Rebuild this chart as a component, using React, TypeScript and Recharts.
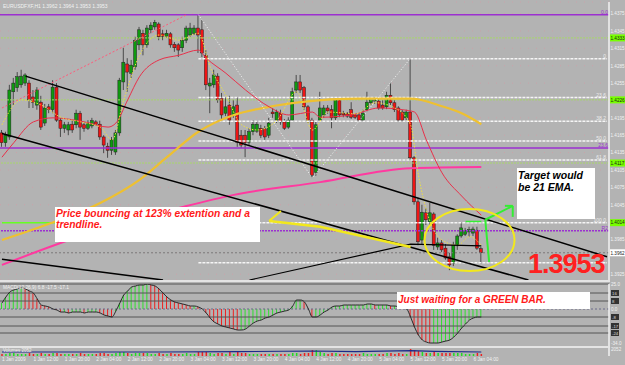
import React from 'react';
import { ComposedChart, Bar, Line, XAxis, YAxis, ReferenceLine, ReferenceDot, CartesianGrid } from 'recharts';

const FONT = '"Liberation Sans", Arial, sans-serif';
const BG = '#b3b3b3';

// ---------- candle data (EURUSD H1) ----------
const opens = [
  1.4169, 1.4152, 1.4162, 1.4240, 1.4247, 1.4252, 1.4255, 1.4255, 1.4231, 1.4217,
  1.4222, 1.4186, 1.4214, 1.4209, 1.4248, 1.4191, 1.4177, 1.4174, 1.4184, 1.4183,
  1.4203, 1.4183, 1.4177, 1.4181, 1.4188, 1.4184, 1.4162, 1.4146, 1.4139, 1.4136,
  1.4169, 1.4257, 1.4288, 1.4272, 1.4283, 1.4321, 1.4341, 1.4321, 1.4347, 1.4352,
  1.4357, 1.4340, 1.4336, 1.4340, 1.4322, 1.4321, 1.4316, 1.4329, 1.4338, 1.4341,
  1.4350, 1.4347, 1.4303, 1.4250, 1.4252, 1.4267, 1.4229, 1.4203, 1.4217, 1.4200,
  1.4217, 1.4165, 1.4165, 1.4153, 1.4171, 1.4172, 1.4177, 1.4176, 1.4165, 1.4205,
  1.4191, 1.4203, 1.4188, 1.4179, 1.4191, 1.4243, 1.4257, 1.4247, 1.4214, 1.4191,
  1.4101, 1.4191, 1.4200, 1.4212, 1.4209, 1.4195, 1.4226, 1.4203, 1.4202, 1.4209,
  1.4200, 1.4200, 1.4191, 1.4209, 1.4221, 1.4224, 1.4224, 1.4217, 1.4214, 1.4234,
  1.4221, 1.4212, 1.4205, 1.4195, 1.4205, 1.4126, 1.4050, 1.3984, 1.4031, 1.4015,
  1.4029, 1.3972, 1.3979, 1.3970, 1.3955, 1.3944, 1.3974, 1.3991, 1.3994, 1.3998,
  1.3996, 1.4001, 1.3969,
];
const highs = [
  1.4174, 1.4171, 1.4252, 1.4264, 1.4274, 1.4278, 1.4272, 1.4260, 1.4243, 1.4248,
  1.4233, 1.4219, 1.4219, 1.4260, 1.4255, 1.4195, 1.4188, 1.4188, 1.4191, 1.4209,
  1.4207, 1.4188, 1.4191, 1.4195, 1.4191, 1.4190, 1.4165, 1.4152, 1.4162, 1.4174,
  1.4264, 1.4316, 1.4298, 1.4295, 1.4335, 1.4352, 1.4347, 1.4355, 1.4360, 1.4364,
  1.4360, 1.4347, 1.4347, 1.4343, 1.4326, 1.4324, 1.4335, 1.4354, 1.4359, 1.4355,
  1.4373, 1.4364, 1.4312, 1.4264, 1.4278, 1.4272, 1.4238, 1.4231, 1.4233, 1.4226,
  1.4231, 1.4174, 1.4174, 1.4177, 1.4191, 1.4190, 1.4183, 1.4181, 1.4195, 1.4212,
  1.4209, 1.4209, 1.4193, 1.4196, 1.4247, 1.4269, 1.4269, 1.4250, 1.4217, 1.4195,
  1.4188, 1.4240, 1.4217, 1.4217, 1.4217, 1.4229, 1.4229, 1.4207, 1.4205, 1.4222,
  1.4203, 1.4203, 1.4209, 1.4240, 1.4229, 1.4231, 1.4229, 1.4226, 1.4240, 1.4255,
  1.4226, 1.4215, 1.4209, 1.4209, 1.4298, 1.4129, 1.4057, 1.4045, 1.4039, 1.4048,
  1.4032, 1.3988, 1.3984, 1.3977, 1.3962, 1.3981, 1.3994, 1.4015, 1.4005, 1.4007,
  1.4007, 1.4007, 1.3972,
];
const lows = [
  1.4145, 1.4145, 1.4157, 1.4217, 1.4240, 1.4247, 1.4250, 1.4212, 1.4212, 1.4209,
  1.4174, 1.4181, 1.4203, 1.4203, 1.4188, 1.4162, 1.4169, 1.4165, 1.4169, 1.4177,
  1.4157, 1.4171, 1.4174, 1.4177, 1.4181, 1.4157, 1.4134, 1.4126, 1.4131, 1.4131,
  1.4164, 1.4243, 1.4240, 1.4264, 1.4278, 1.4312, 1.4303, 1.4316, 1.4341, 1.4347,
  1.4329, 1.4329, 1.4333, 1.4316, 1.4309, 1.4300, 1.4309, 1.4324, 1.4335, 1.4338,
  1.4307, 1.4300, 1.4243, 1.4203, 1.4247, 1.4221, 1.4191, 1.4198, 1.4183, 1.4195,
  1.4145, 1.4143, 1.4127, 1.4148, 1.4165, 1.4169, 1.4160, 1.4157, 1.4160, 1.4195,
  1.4186, 1.4183, 1.4174, 1.4176, 1.4188, 1.4238, 1.4238, 1.4209, 1.4186, 1.4091,
  1.4095, 1.4188, 1.4195, 1.4202, 1.4177, 1.4191, 1.4196, 1.4196, 1.4195, 1.4193,
  1.4193, 1.4188, 1.4188, 1.4205, 1.4217, 1.4219, 1.4209, 1.4209, 1.4210, 1.4217,
  1.4205, 1.4188, 1.4188, 1.4191, 1.4122, 1.4045, 1.3975, 1.3977, 1.4010, 1.4010,
  1.3967, 1.3967, 1.3963, 1.3950, 1.3932, 1.3939, 1.3967, 1.3988, 1.3991, 1.3990,
  1.3991, 1.3967, 1.3943,
];
const closes = [
  1.4152, 1.4165, 1.4243, 1.4255, 1.4266, 1.4267, 1.4269, 1.4226, 1.4222, 1.4243,
  1.4179, 1.4212, 1.4209, 1.4248, 1.4191, 1.4177, 1.4183, 1.4183, 1.4174, 1.4203,
  1.4179, 1.4177, 1.4186, 1.4190, 1.4184, 1.4162, 1.4148, 1.4139, 1.4157, 1.4169,
  1.4260, 1.4291, 1.4274, 1.4286, 1.4329, 1.4347, 1.4321, 1.4350, 1.4355, 1.4360,
  1.4335, 1.4336, 1.4341, 1.4321, 1.4316, 1.4312, 1.4329, 1.4350, 1.4350, 1.4350,
  1.4338, 1.4307, 1.4252, 1.4255, 1.4269, 1.4226, 1.4200, 1.4214, 1.4191, 1.4214,
  1.4153, 1.4148, 1.4152, 1.4171, 1.4184, 1.4184, 1.4165, 1.4162, 1.4186, 1.4202,
  1.4205, 1.4188, 1.4177, 1.4191, 1.4240, 1.4257, 1.4243, 1.4214, 1.4191, 1.4096,
  1.4183, 1.4212, 1.4212, 1.4207, 1.4195, 1.4226, 1.4200, 1.4200, 1.4198, 1.4196,
  1.4196, 1.4191, 1.4203, 1.4222, 1.4226, 1.4226, 1.4212, 1.4212, 1.4234, 1.4221,
  1.4209, 1.4191, 1.4191, 1.4205, 1.4126, 1.4050, 1.3981, 1.4032, 1.4019, 1.4031,
  1.3975, 1.3979, 1.3967, 1.3953, 1.3941, 1.3975, 1.3991, 1.4005, 1.4000, 1.4002,
  1.4003, 1.3970, 1.3962,
];

// MACD main values per candle
const macd = [
  6, 12, 17, 19, 20, 21, 20, 18, 16, 10,
  4, 3, 2, 0, -1, -3, -3, -4, -3, -3,
  -3, -4, -3, -3, -3, -4, -6, -7, -8, -2,
  6, 14, 18, 22, 23, 24, 24, 25, 24, 23,
  20, 16, 12, 9, 7, 6, 5, 4, 3, 3,
  2, 0, -4, -9, -13, -15, -17, -18, -19, -20,
  -21, -21, -20, -17, -14, -12, -11, -9, -8, -6,
  -4, -3, -2, -1, 3, 9, 9, 7, 0, -8,
  -8, -6, -3, -1, 2, 3, 3, 4, 4, 4,
  4, 4, 4, 5, 5, 4, 4, 4, 4, 3,
  3, 2, 1, 0, -8, -18, -26, -31, -33, -34,
  -34, -34, -33, -32, -31, -28, -24, -19, -15, -11,
  -9, -8, -8,
];

// tick volume per candle
const volume = [
  600, 600, 900, 900, 600, 600, 600, 900, 600, 600,
  900, 600, 600, 900, 900, 600, 600, 600, 600, 600,
  900, 600, 600, 600, 600, 900, 900, 600, 600, 900,
  1200, 1200, 900, 600, 900, 900, 900, 900, 600, 600,
  900, 600, 600, 900, 600, 600, 600, 900, 600, 600,
  1200, 1200, 1200, 900, 600, 900, 900, 600, 1200, 600,
  1200, 900, 900, 600, 600, 600, 600, 600, 600, 600,
  600, 600, 600, 600, 900, 900, 600, 900, 900, 1800,
  1800, 1200, 900, 600, 900, 900, 600, 600, 600, 600,
  600, 600, 900, 600, 600, 600, 600, 600, 900, 900,
  600, 900, 600, 600, 2100, 1800, 1500, 1200, 900, 900,
  1200, 900, 900, 900, 900, 900, 900, 900, 600, 600,
  600, 900, 600,
];

// ---------- indicator lines (candle index, price) ----------
const ema21Pts: Array<[number, number]> = [
  [0, 1.4127], [3, 1.4152], [8, 1.4188], [13, 1.4195], [21, 1.4188], [27, 1.4179], [29, 1.4186],
  [32, 1.4226], [35, 1.4266], [40, 1.4295], [45, 1.4303], [50, 1.4312], [52, 1.4298], [57, 1.4272],
  [62, 1.4243], [68, 1.4214], [73, 1.4200], [79, 1.4205], [81, 1.4196], [89, 1.4200], [96, 1.4212],
  [102, 1.4209], [105, 1.4205], [108, 1.4157], [112, 1.4100], [117, 1.4060], [122, 1.4027],
];
const slowMaPts: Array<[number, number]> = [
  [0, 1.3984], [12, 1.4012], [25, 1.4048], [35, 1.4088], [42, 1.4127], [50, 1.4171], [59, 1.4200],
  [68, 1.4214], [76, 1.4222], [91, 1.4228], [104, 1.4228], [112, 1.4215], [117, 1.4203], [122, 1.4184],
];
const ema200Pts: Array<[number, number]> = [
  [0, 1.3941], [21, 1.3993], [46, 1.4041], [59, 1.4062], [81, 1.4084], [104, 1.4108], [122, 1.4110],
];
const fastMaPts: Array<[number, number]> = [
  [0, 1.4183], [5, 1.4226], [10, 1.4217], [15, 1.4196], [20, 1.4188], [25, 1.4179], [28, 1.4157],
  [31, 1.4226], [35, 1.4303], [40, 1.4338], [45, 1.4329], [50, 1.4341], [53, 1.4283], [57, 1.4234],
  [61, 1.4183], [65, 1.4174], [70, 1.4191], [75, 1.4240], [79, 1.4174], [83, 1.4205], [90, 1.4202],
  [95, 1.4221], [100, 1.4212], [104, 1.4183], [106, 1.4096], [108, 1.4036], [112, 1.3984],
  [116, 1.3975], [119, 1.3990], [122, 1.3975],
];
const pinkTrendPts: Array<[number, number]> = [[0, 1.4212], [47, 1.4373]];
const zigzagPts: Array<[number, number]> = [[50, 1.4373], [79, 1.4091], [104, 1.4298]];
const upperTrendPts: Array<[number, number]> = [[6, 1.4267], [154, 1.3955]];
const lowerTrendPts: Array<[number, number]> = [[0, 1.4168], [134, 1.3915]];
const bottomTrendPts: Array<[number, number]> = [[0, 1.3951], [41, 1.3915]];
const risingLinePts: Array<[number, number]> = [[63, 1.3915], [104, 1.3977], [122, 1.3974]];
const yellowArrowPts: Array<[number, number]> = [[68, 1.4017], [81, 1.4007], [104, 1.3972]];
const volLinePts: Array<[number, number]> = [[0, 1200], [40, 1200], [60, 1300], [79, 1500], [90, 1300], [104, 1600], [110, 1400], [122, 1200]];

// ---------- levels ----------
const purpleLevels = [1.4373, 1.4143];
const purpleLabels = ['0.0', '23.6'];
const purpleDashed = 1.4000;
const greenDotLevels = [1.4333, 1.4226, 1.4117];
const greenBoxLevels = [1.4333, 1.4226, 1.4117, 1.4014];
const fibPrices = [1.4297, 1.4230, 1.4189, 1.4155, 1.4122, 1.4014, 1.3945];
const fibNames = ['0', '23.6', '38.2', '50.0', '61.8', '100.0', ''];
const fibStart = 50;
const lastPrice = 1.3962;
const priceTicks = [1.4375, 1.4345, 1.4315, 1.4285, 1.4255, 1.4195, 1.4165, 1.4135, 1.4105, 1.4075, 1.4045, 1.3985, 1.3925];
const macdLevels = [25, 16, 8, 0, -8, -17, -24];
const macdBoxed = [16, 8, -8, -17, -24];
const macdTicks = [25, 16, 8, 0, -8, -17, -24, -34];

const SLOTS = 155;
const timeTickIdx = [0, 8, 16, 24, 32, 40, 48, 56, 64, 72, 80, 88, 96, 104, 112, 120];
const timeLabels = [
  '1 Jan 2009', '1 Jan 12:00', '1 Jan 20:00', '2 Jan 04:00', '2 Jan 12:00', '2 Jan 20:00',
  '3 Jan 04:00', '3 Jan 12:00', '3 Jan 20:00', '4 Jan 04:00', '4 Jan 12:00', '4 Jan 20:00',
  '5 Jan 04:00', '5 Jan 12:00', '5 Jan 20:00', '6 Jan 04:00',
];

// ---------- build rows ----------
const rows: any[] = [];
for (let i = 0; i < SLOTS; i++) {
  const r: any = { i };
  if (i < opens.length) {
    r.o = opens[i]; r.h = highs[i]; r.l = lows[i]; r.c = closes[i];
    r.range = [lows[i], highs[i]];
    r.macd = macd[i];
    r.macdUp = i === 0 ? true : macd[i] >= macd[i - 1];
    r.vol = volume[i];
  }
  rows.push(r);
}
const put = (key: string, pts: Array<[number, number]>) => { pts.forEach(([i, v]) => { rows[i][key] = v; }); };
put('ema21', ema21Pts);
put('slow', slowMaPts);
put('ema200', ema200Pts);
put('fast', fastMaPts);
put('pinkTrend', pinkTrendPts);
put('zz', zigzagPts);
put('t1', upperTrendPts);
put('t2', lowerTrendPts);
put('t3', bottomTrendPts);
put('t4', risingLinePts);
put('yarrow', yellowArrowPts);
put('vline', volLinePts);

// ---------- shapes ----------
const Candle = (p: any) => {
  const { x, y, width, height, payload } = p;
  if (!payload || payload.o == null) return null;
  const { o, h, l, c } = payload;
  const span = h - l || 1e-9;
  const py = (v: number) => y + ((h - v) / span) * height;
  const cx = x + width / 2;
  const up = c >= o;
  const top = py(Math.max(o, c));
  const bot = py(Math.min(o, c));
  return (
    <g>
      <line x1={cx} x2={cx} y1={y} y2={y + height} stroke="#4a4a4a" strokeWidth={1} />
      <rect x={cx - 1.5} y={top} width={3} height={Math.max(1, bot - top)} fill={up ? '#0f9a0f' : '#ee1515'} stroke="#222" strokeWidth={0.5} />
    </g>
  );
};

const MacdBar = (p: any) => {
  const { x, y, width, height, payload } = p;
  if (!payload || payload.macd == null) return null;
  const cx = x + width / 2;
  return <line x1={cx} x2={cx} y1={y} y2={y + height} stroke={payload.macdUp ? '#2ee02e' : '#ee2020'} strokeWidth={1} />;
};

const VolBar = (p: any) => {
  const { x, y, width, height, payload } = p;
  if (!payload || payload.vol == null) return null;
  const cx = x + width / 2;
  const up = payload.c >= payload.o;
  return <line x1={cx} x2={cx} y1={y} y2={y + height} stroke={up ? '#22dd22' : '#ee2020'} strokeWidth={1.5} />;
};

const TICK_FS = 4.6;

const PriceTick = (p: any) => {
  const v = p.payload.value;
  const { y } = p;
  const x = 610;
  const txt = v.toFixed(4);
  if (greenBoxLevels.includes(v) || v === lastPrice) {
    return (
      <g>
        <rect x={x} y={y - 3.5} width={15} height={7} fill={v === lastPrice ? '#ffffff' : '#77ff00'} />
        <text x={x + 0.5} y={y + 1.8} fontSize={TICK_FS} fill="#1a1a1a" fontFamily={FONT}>{txt}</text>
      </g>
    );
  }
  return <text x={x + 0.5} y={y + 1.8} fontSize={TICK_FS} fill="#f2f2f2" fontFamily={FONT}>{txt}</text>;
};

const MacdTick = (p: any) => {
  const v = p.payload.value;
  const { y } = p;
  const x = 610;
  const txt = v.toFixed(1);
  if (macdBoxed.includes(v)) {
    return (
      <g>
        <rect x={x + 1} y={y - 3} width={8} height={6} fill="#333" />
        <text x={x + 2} y={y + 1.8} fontSize={4.3} fill="#ddd" fontFamily={FONT}>{txt.replace('.0', '')}</text>
      </g>
    );
  }
  return <text x={x + 1} y={y + 1.8} fontSize={TICK_FS} fill="#f2f2f2" fontFamily={FONT}>{txt}</text>;
};

const VolTick = (p: any) => {
  const { y } = p;
  return <text x={611} y={y + 1.8} fontSize={TICK_FS} fill="#f2f2f2" fontFamily={FONT}>{p.payload.value}</text>;
};

const TimeTick = (p: any) => {
  const { x, payload } = p;
  const k = timeTickIdx.indexOf(payload.value);
  if (k < 0) return null;
  return <text x={x} y={15} fontSize={4.8} fill="#f2f2f2" fontFamily={FONT}>{timeLabels[k]}</text>;
};

const ellipseShape = (p: any) => (
  <ellipse cx={p.cx} cy={p.cy} rx={45} ry={31} fill="none" stroke="#f2e81c" strokeWidth={2} />
);

const lineCommon = { dot: false, activeDot: false, connectNulls: true, isAnimationActive: false } as any;

export default function App() {
  return (
    <div style={{ position: 'absolute', left: 0, top: 0, width: 625, height: 365, background: BG, overflow: 'hidden', fontFamily: FONT }}>
      {/* main price panel */}
      <div style={{ position: 'absolute', left: 0, top: 0 }}>
        <ComposedChart width={625} height={282} data={rows} margin={{ top: 2, right: 0, bottom: 2, left: 0 }}>
          <CartesianGrid stroke="#c9a3aa" strokeDasharray="1 7" vertical={false} />
          <XAxis dataKey="i" hide ticks={timeTickIdx} interval={0} />
          <YAxis orientation="right" width={16} domain={[1.3915, 1.4395]} allowDataOverflow ticks={[...priceTicks, ...greenBoxLevels, lastPrice]} interval={0} tick={PriceTick} tickLine={false} tickSize={0} tickMargin={0} axisLine={{ stroke: '#f2f2f2', strokeWidth: 1.5 }} />

          {purpleLevels.map((v, k) => (
            <ReferenceLine key={'p' + k} y={v} stroke="#9b30d0" strokeWidth={1.5} label={{ value: purpleLabels[k], position: 'insideBottomRight', fill: '#9b30d0', fontSize: 5, offset: 1 }} />
          ))}
          <ReferenceLine y={purpleDashed} stroke="#9b30d0" strokeWidth={1.5} strokeDasharray="2 1" label={{ value: 'R2', position: 'insideBottomRight', fill: '#9b30d0', fontSize: 5, offset: 1 }} />
          {greenDotLevels.map((v, k) => (
            <ReferenceLine key={'g' + k} y={v} stroke="#a6d86a" strokeWidth={1} strokeDasharray="2 1" />
          ))}
          <ReferenceLine segment={[{ x: 0, y: greenBoxLevels[3] }, { x: 14, y: greenBoxLevels[3] }]} stroke="#66ff22" strokeWidth={1.5} />
          {fibPrices.map((v, k) => (
            <ReferenceLine key={'f' + k} segment={[{ x: fibStart, y: v }, { x: SLOTS - 1, y: v }]} stroke="#f6f6f6" strokeWidth={1.5} strokeDasharray="3 1" label={fibNames[k] ? { value: fibNames[k], position: 'insideBottomRight', fill: '#eeeeee', fontSize: 5, offset: 1 } : undefined} />
          ))}
          <ReferenceLine y={lastPrice} stroke="#7a7a7a" strokeDasharray="2 2" />

          <Line dataKey="ema200" stroke="#ff3aa0" strokeWidth={2} type="monotone" {...lineCommon} />
          <Line dataKey="slow" stroke="#eec030" strokeWidth={2.2} type="monotone" {...lineCommon} />
          <Line dataKey="pinkTrend" stroke="#ff5a7a" strokeWidth={1} strokeDasharray="2 2" type="linear" {...lineCommon} />
          <Line dataKey="zz" stroke="#f4f4f4" strokeWidth={1} strokeDasharray="1 2" type="linear" {...lineCommon} />

          <Bar dataKey="range" barSize={3} shape={Candle} isAnimationActive={false} />

          <Line dataKey="ema21" stroke="#e8304a" strokeWidth={1} type="monotone" {...lineCommon} />
          <Line dataKey="fast" stroke="#eee040" strokeWidth={1} strokeDasharray="1.5 1.5" type="monotone" {...lineCommon} />
          <Line dataKey="t1" stroke="#000" strokeWidth={1.5} type="linear" {...lineCommon} />
          <Line dataKey="t2" stroke="#000" strokeWidth={1.5} type="linear" {...lineCommon} />
          <Line dataKey="t3" stroke="#000" strokeWidth={1.5} type="linear" {...lineCommon} />
          <Line dataKey="t4" stroke="#000" strokeWidth={1.2} type="linear" {...lineCommon} />
          <Line dataKey="yarrow" stroke="#f2e81c" strokeWidth={2.5} type="linear" {...lineCommon} />

          <ReferenceLine segment={[{ x: 68, y: 1.4017 }, { x: 71, y: 1.4034 }]} stroke="#f2e81c" strokeWidth={2} />
          <ReferenceLine segment={[{ x: 118, y: 1.4016 }, { x: 122, y: 1.4016 }]} stroke="#33ee33" strokeWidth={1.5} />
          <ReferenceDot x={119} y={1.3984} shape={ellipseShape} />
          <ReferenceLine segment={[{ x: 124, y: 1.3946 }, { x: 123, y: 1.4019 }]} stroke="#33ee33" strokeWidth={2} />
          <ReferenceLine segment={[{ x: 123, y: 1.4019 }, { x: 130, y: 1.4043 }]} stroke="#33ee33" strokeWidth={2} />
          <ReferenceLine segment={[{ x: 128, y: 1.4043 }, { x: 130, y: 1.4043 }]} stroke="#33ee33" strokeWidth={2} />
          <ReferenceLine segment={[{ x: 130, y: 1.4043 }, { x: 130, y: 1.4024 }]} stroke="#33ee33" strokeWidth={2} />
        </ComposedChart>
      </div>

      {/* MACD panel */}
      <div style={{ position: 'absolute', left: 0, top: 282 }}>
        <ComposedChart width={625} height={66} data={rows} margin={{ top: 2, right: 0, bottom: 2, left: 0 }}>
          <XAxis dataKey="i" hide />
          <YAxis orientation="right" width={16} domain={[-37, 25]} allowDataOverflow ticks={macdTicks} interval={0} tick={MacdTick} tickLine={false} tickSize={0} tickMargin={0} axisLine={{ stroke: '#f2f2f2', strokeWidth: 1.5 }} />
          {macdLevels.map((v, k) => (
            <ReferenceLine key={'m' + k} y={v} stroke={v === 0 ? '#6a6a8a' : '#555'} strokeDasharray={v === 0 ? '2 2' : undefined} strokeWidth={1} />
          ))}
          <Bar dataKey="macd" barSize={1} shape={MacdBar} isAnimationActive={false} />
          <Line dataKey="macd" stroke="#2a2a2a" strokeWidth={1} type="monotone" {...lineCommon} />
        </ComposedChart>
      </div>

      {/* volume panel + time axis */}
      <div style={{ position: 'absolute', left: 0, top: 346 }}>
        <ComposedChart width={625} height={19} data={rows} margin={{ top: 2, right: 0, bottom: 0, left: 0 }}>
          <XAxis dataKey="i" height={9} ticks={timeTickIdx} interval={0} tick={TimeTick} tickLine={false} axisLine={false} tickSize={0} tickMargin={0} />
          <YAxis orientation="right" width={16} domain={[0, 2400]} ticks={[2052]} interval={0} tick={VolTick} tickLine={false} tickSize={0} tickMargin={0} axisLine={{ stroke: '#f2f2f2', strokeWidth: 1.5 }} />
          <Bar dataKey="vol" barSize={2} shape={VolBar} isAnimationActive={false} />
          <Line dataKey="vline" stroke="#1c2a8a" strokeWidth={1.2} type="linear" {...lineCommon} />
        </ComposedChart>
      </div>

      {/* panel separators */}
      <div style={{ position: 'absolute', left: 0, top: 280, width: 610, height: 2, background: '#e4e4e4' }} />
      <div style={{ position: 'absolute', left: 0, top: 346, width: 610, height: 2, background: '#e4e4e4' }} />

      {/* annotations */}
      <svg width={625} height={365} style={{ position: 'absolute', left: 0, top: 0 }}>
        <text x={3} y={8} fontSize={5} fill="#f2f2f2" fontFamily={FONT}>EURUSDFXF,H1  1.3962 1.3964 1.3953 1.3953</text>
        <text x={3} y={289} fontSize={4.8} fill="#f2f2f2" fontFamily={FONT}>MACD(12,26,9) 6.8 -17.5 -17.1</text>
        <text x={3} y={352} fontSize={4.5} fill="#f2f2f2" fontFamily={FONT}>Volumes 2052</text>

        <rect x={55} y={207} width={205} height={35} fill="#ffffff" />
        <text x={56} y={216.5} fontSize={10.3} fontWeight="bold" fontStyle="italic" fill="#ff1a1a" fontFamily={FONT}>Price bouncing at 123% extention and a</text>
        <text x={56} y={228} fontSize={10.3} fontWeight="bold" fontStyle="italic" fill="#ff1a1a" fontFamily={FONT}>trendline.</text>

        <rect x={517} y={168} width={78} height={51} fill="#ffffff" />
        <text x={518} y={179} fontSize={10.5} fontWeight="bold" fontStyle="italic" fill="#000" fontFamily={FONT}>Target would</text>
        <text x={518} y={191} fontSize={10.5} fontWeight="bold" fontStyle="italic" fill="#000" fontFamily={FONT}>be 21 EMA.</text>

        <rect x={397} y={292} width={193} height={17} fill="#ffffff" />
        <text x={398} y={302.5} fontSize={10} fontWeight="bold" fontStyle="italic" fill="#ff1a1a" fontFamily={FONT}>Just waiting for a GREEN BAR.</text>

        <text x={528} y={273} fontSize={27} fontWeight="bold" fill="#ff2020" letterSpacing={-1} fontFamily={FONT}>1.3953</text>
      </svg>
    </div>
  );
}
